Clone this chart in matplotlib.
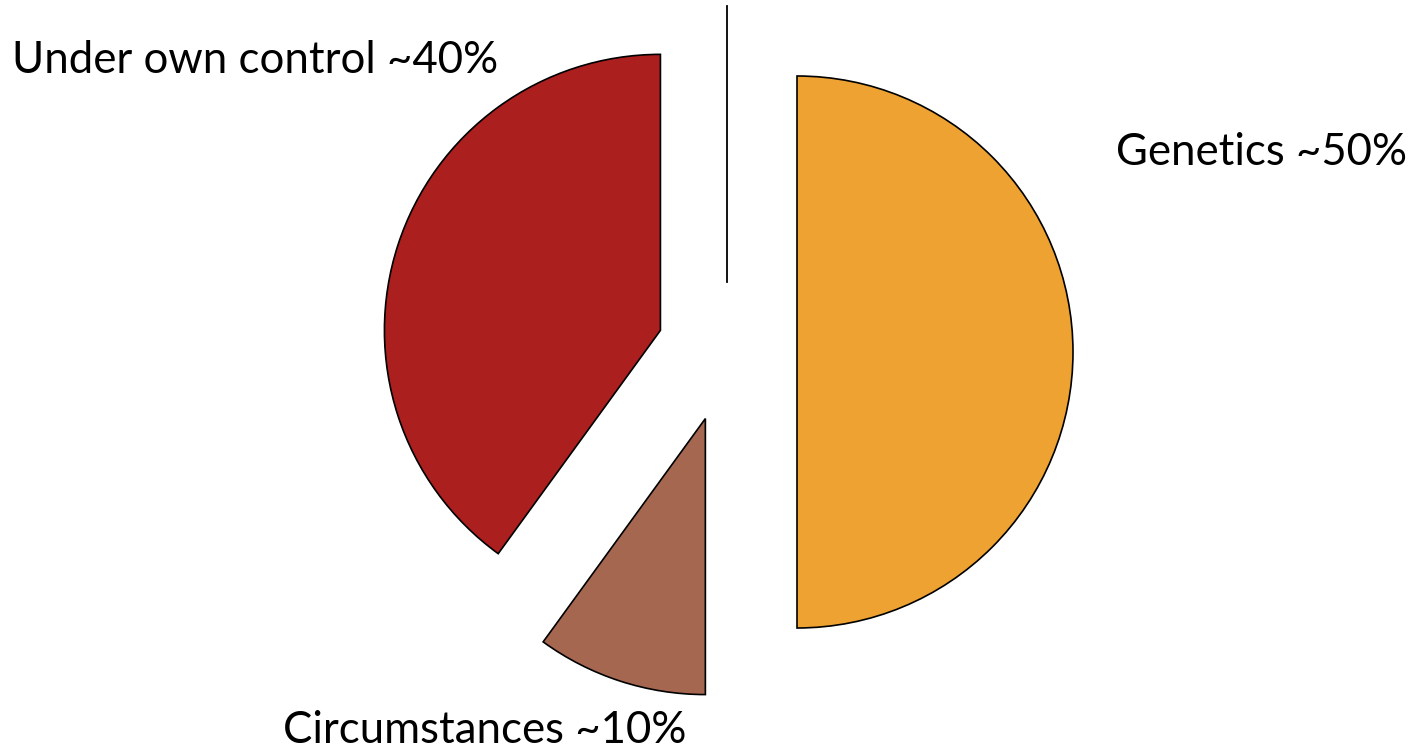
import numpy as np
import matplotlib.pyplot as plt

labels = ["Genetics ~50%", "Circumstances ~10%", "Under own control ~40%"]
shares = [50, 10, 40]
colors = ["#EEA231", "#A56750", "#AB1F1F"]

W, H = 1408, 754
cx, cy = 727, H - 352
r = 276
ex = 70  # explode offset in data units (pixels)

fig = plt.figure(figsize=(W / 100, H / 100), dpi=100)
ax = fig.add_axes([0, 0, 1, 1])

ax.pie(shares, colors=colors, startangle=90, counterclock=False,
       center=(cx, cy), radius=r, explode=[ex] * 3,
       wedgeprops=dict(edgecolor="black", linewidth=1.2))
ax.set_xlim(0, W)
ax.set_ylim(0, H)
ax.set_aspect("equal")
ax.axis("off")

# separator line above the pie
ax.plot([cx, cx], [cy + ex, cy + ex + r], color="black", lw=1.3)

font = "Lato"
fs = 31.5
ax.text(12, H - 73, labels[2], fontsize=fs, family=font, ha="left", va="baseline")
ax.text(1116, H - 165, labels[0], fontsize=fs, family=font, ha="left", va="baseline")
ax.text(283, H - 743, labels[1], fontsize=fs, family=font, ha="left", va="baseline")

fig.savefig("out.png", dpi=100)
